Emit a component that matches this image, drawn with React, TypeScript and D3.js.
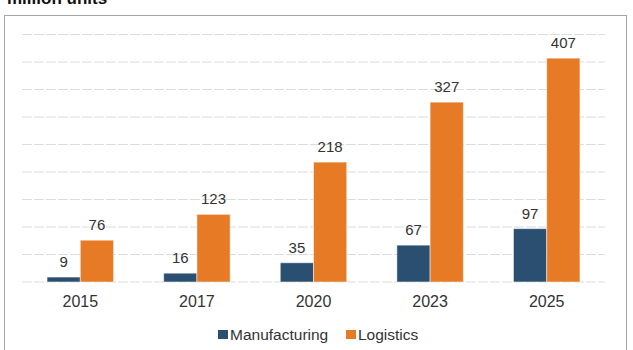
import React, { useEffect, useRef } from 'react'
import * as d3 from 'd3'

const years = ['2015', '2017', '2020', '2023', '2025']
const manufacturing = [9, 16, 35, 67, 97]
const logistics = [76, 123, 218, 327, 407]
const seriesNames = ['Manufacturing', 'Logistics']
const yTicks = [0, 50, 100, 150, 200, 250, 300, 350, 400, 450]

const colors = ['#2b4f70', '#e67a25']

export default function App() {
  const ref = useRef<SVGSVGElement>(null)

  useEffect(() => {
    const svg = d3.select(ref.current)
    svg.selectAll('*').remove()

    const width = 633
    const height = 350
    const margin = { top: 34.5, right: 25, bottom: 68, left: 22 }

    // frame + title (title is cut by the top edge, as in the source)
    svg.append('rect')
      .attr('x', 4.5).attr('y', 15.5)
      .attr('width', 622).attr('height', 345)
      .attr('fill', '#fff')
      .attr('stroke', '#a6a6a6')

    svg.append('text')
      .attr('x', 7).attr('y', 4)
      .attr('font-family', 'Liberation Sans, Arial, sans-serif')
      .attr('font-weight', 'bold')
      .attr('font-size', 17)
      .attr('fill', '#111')
      .text('million units')

    const x0 = d3.scaleBand()
      .domain(years)
      .range([margin.left, width - margin.right - 3])
      .paddingInner(0.43)
      .paddingOuter(0.215)

    const x1 = d3.scaleBand()
      .domain(seriesNames)
      .range([0, x0.bandwidth()])

    const y = d3.scaleLinear()
      .domain([0, 450])
      .range([height - margin.bottom, margin.top])

    // grid
    svg.append('g')
      .selectAll('line')
      .data(yTicks)
      .join('line')
      .attr('x1', margin.left)
      .attr('x2', width - margin.right - 3)
      .attr('y1', d => y(d))
      .attr('y2', d => y(d))
      .attr('stroke', '#dcdcdc')
      .attr('stroke-dasharray', '10,2')

    const rows = years.map((yr, i) => ({ year: yr, values: [manufacturing[i], logistics[i]] }))

    const groups = svg.append('g')
      .selectAll('g')
      .data(rows)
      .join('g')
      .attr('transform', d => `translate(${x0(d.year)},0)`)

    groups.selectAll('rect')
      .data(d => d.values.map((v, j) => ({ key: seriesNames[j], v, j })))
      .join('rect')
      .attr('x', d => x1(d.key)!)
      .attr('y', d => y(d.v))
      .attr('width', x1.bandwidth())
      .attr('height', d => y(0) - y(d.v))
      .attr('fill', d => colors[d.j])
      .attr('stroke', '#fff')
      .attr('stroke-opacity', 0.5)

    groups.selectAll('text')
      .data(d => d.values.map((v, j) => ({ key: seriesNames[j], v })))
      .join('text')
      .attr('x', d => x1(d.key)! + x1.bandwidth() / 2)
      .attr('y', d => y(d.v) - 10)
      .attr('text-anchor', 'middle')
      .attr('font-family', 'Liberation Sans, Arial, sans-serif')
      .attr('font-size', 15)
      .attr('fill', '#333')
      .text(d => d.v)

    // category labels
    svg.append('g')
      .selectAll('text')
      .data(years)
      .join('text')
      .attr('x', d => x0(d)! + x0.bandwidth() / 2)
      .attr('y', 306.5)
      .attr('text-anchor', 'middle')
      .attr('font-family', 'Liberation Sans, Arial, sans-serif')
      .attr('font-size', 16)
      .attr('fill', '#333')
      .text(d => d)

    // legend
    const legendX = [218, 346]
    const legend = svg.append('g')
      .selectAll('g')
      .data(seriesNames)
      .join('g')
      .attr('transform', (d, i) => `translate(${legendX[i]},330)`)
    legend.append('rect')
      .attr('width', 10).attr('height', 9)
      .attr('fill', (d, i) => colors[i])
    legend.append('text')
      .attr('x', 12).attr('y', 9.5)
      .attr('font-family', 'Liberation Sans, Arial, sans-serif')
      .attr('font-size', 15.5)
      .attr('fill', '#333')
      .text(d => d)
  }, [])

  return (
    <svg ref={ref} width={633} height={350}
      style={{ position: 'absolute', left: 0, top: 0, background: '#fff' }} />
  )
}
